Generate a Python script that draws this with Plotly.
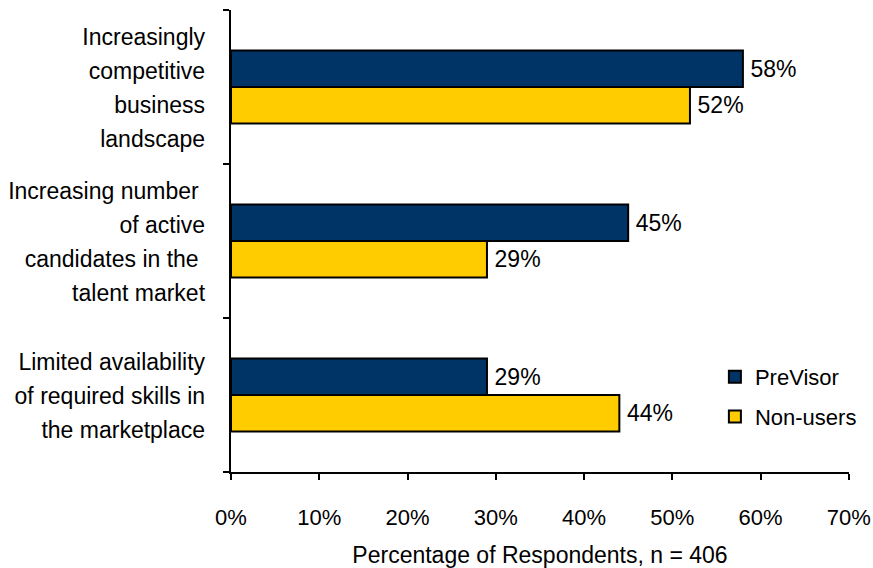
import plotly.graph_objects as go

# ---- data ----
category_lines = [
    ["Increasingly", "competitive", "business", "landscape"],
    ["Increasing number\u00a0", "of active", "candidates in the\u00a0", "talent market"],
    ["Limited availability", "of required skills in", "the marketplace"],
]
categories = ["Increasingly competitive business landscape",
              "Increasing number of active candidates in the talent market",
              "Limited availability of required skills in the marketplace"]
previsor = [58, 45, 29]
nonusers = [52, 29, 44]
x_tickvals = [0, 10, 20, 30, 40, 50, 60, 70]
x_ticktext = ["0%", "10%", "20%", "30%", "40%", "50%", "60%", "70%"]

FONT = "Liberation Sans, Arial, sans-serif"

def label(lines):
    return "<br>".join('<span style="font-size:23px">%s</span>' % l for l in lines)

cat_labels = [label(l) for l in category_lines]

fig = go.Figure()
fig.add_trace(go.Bar(
    y=categories, x=previsor, orientation="h", name="PreVisor",
    marker=dict(color="#003366", line=dict(color="#000000", width=2)),
    text=[f"\u2009{v}%" for v in previsor], textposition="outside",
    textfont=dict(size=23, color="#000000", family=FONT),
    cliponaxis=False, legendgroup="a",
))
fig.add_trace(go.Bar(
    y=categories, x=nonusers, orientation="h", name="Non-users",
    marker=dict(color="#FFCC00", line=dict(color="#000000", width=2)),
    text=[f"\u2009{v}%" for v in nonusers], textposition="outside",
    textfont=dict(size=23, color="#000000", family=FONT),
    cliponaxis=False, legendgroup="b",
))

fig.update_layout(
    width=873, height=568,
    margin=dict(l=231, r=24, t=10, b=96, autoexpand=False),
    paper_bgcolor="white", plot_bgcolor="white",
    font=dict(family=FONT, size=22, color="#000000"),
    barmode="group", bargap=0.526, bargroupgap=0,
    showlegend=True,
    legend=dict(x=0.783, y=0.251, xanchor="left", yanchor="top",
                font=dict(size=22), tracegroupgap=8,
                traceorder="grouped", bgcolor="rgba(0,0,0,0)"),
)
fig.update_xaxes(
    range=[0, 70.02], tickvals=x_tickvals, ticktext=x_ticktext,
    showgrid=False, zeroline=False, showline=True, linecolor="#000000", linewidth=1.5,
    ticks="outside", ticklen=6, tickcolor="#000000", tickwidth=1.5,
    tickfont=dict(size=22), ticklabelstandoff=19, ticklabeloverflow="allow",
    automargin=False,
    title=dict(text="Percentage of Respondents, n = 406", font=dict(size=23), standoff=26),
)
fig.update_yaxes(
    categoryorder="array", categoryarray=categories,
    tickvals=categories, ticktext=cat_labels,
    autorange="reversed", showgrid=False, zeroline=False,
    showline=True, linecolor="#000000", linewidth=1.5,
    ticks="outside", ticklen=6, tickcolor="#000000", tickwidth=1.5,
    tickson="boundaries", tickfont=dict(size=26), ticklabelstandoff=19,
    automargin=False,
)

fig.write_html("out.html")
